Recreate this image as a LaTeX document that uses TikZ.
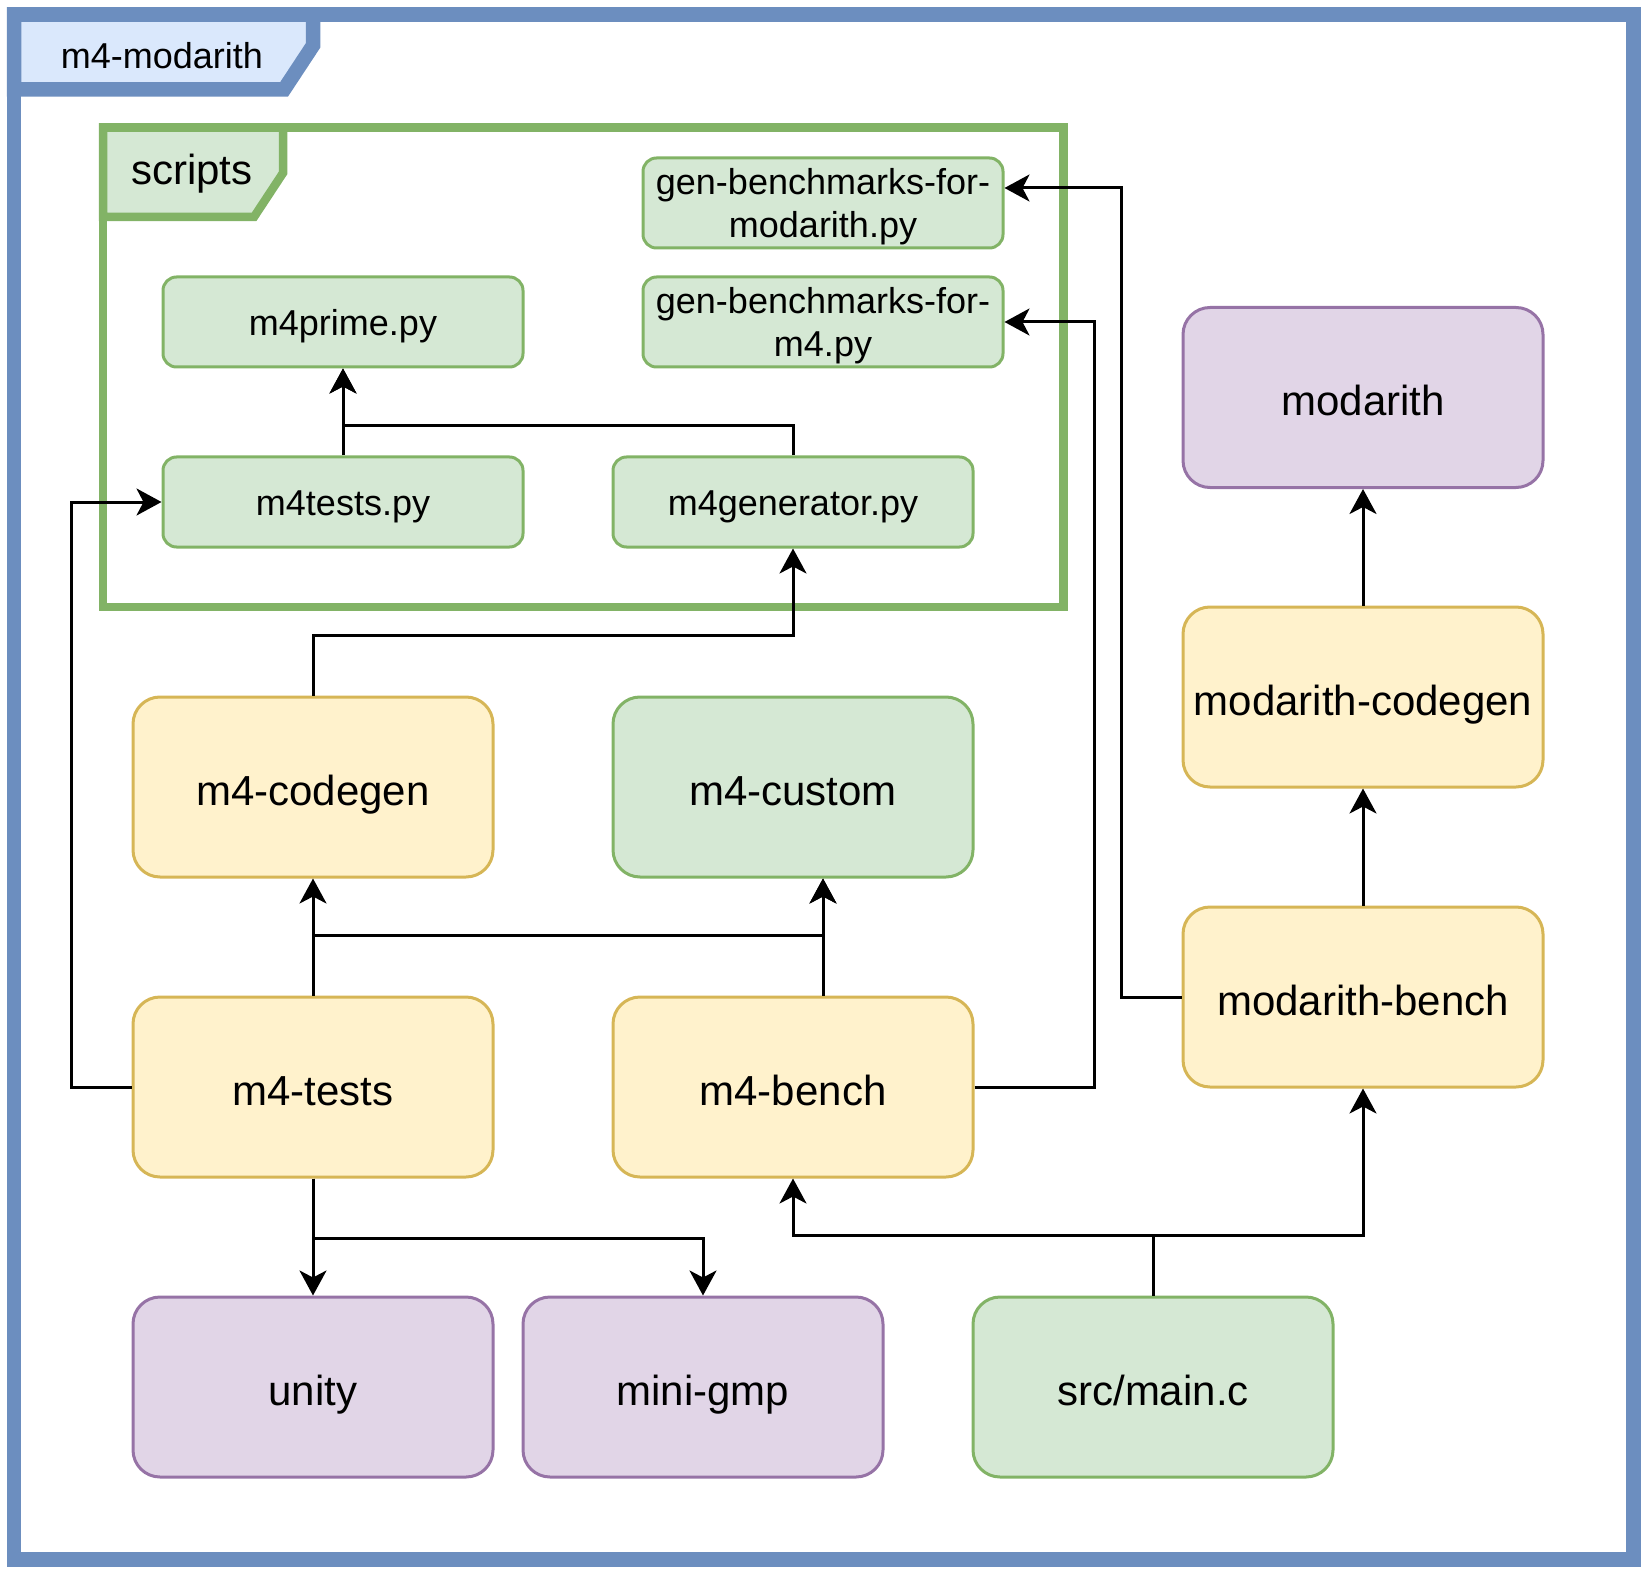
\documentclass[tikz,border=0pt]{standalone}
\usepackage{fontspec}
\setmainfont{Liberation Sans}
\usetikzlibrary{arrows.meta}
\definecolor{greenfill}{HTML}{D5E8D4}
\definecolor{greenline}{HTML}{82B366}
\definecolor{yellowfill}{HTML}{FFF2CC}
\definecolor{yellowline}{HTML}{D6B656}
\definecolor{purplefill}{HTML}{E1D5E7}
\definecolor{purpleline}{HTML}{9673A6}
\definecolor{bluefill}{HTML}{DAE8FC}
\definecolor{blueline}{HTML}{6C8EBF}
\tikzstyle{pybox}=[draw=greenline, fill=greenfill, line width=1.5pt, rounded corners=6.75pt, minimum width=180pt, minimum height=45pt, align=center, text depth=0pt, font=\fontsize{18}{21.5}\selectfont]
\tikzstyle{pkgbox}=[draw=yellowline, fill=yellowfill, line width=1.5pt, rounded corners=13.5pt, minimum width=180pt, minimum height=90pt, text height=18pt, text depth=0pt, font=\fontsize{21}{25}\selectfont]
\tikzstyle{libbox}=[pkgbox, draw=purpleline, fill=purplefill]
\tikzstyle{srcbox}=[pkgbox, draw=greenline, fill=greenfill]
\tikzstyle{dep}=[line width=1.5pt, -{Stealth[length=12.5pt, width=13.5pt, inset=3.5pt]}]
\newcommand{\pynode}[3]{\node[pybox, text height=13.7pt] (#1) at (#2) {#3};}
\newcommand{\pkgnode}[4]{\node[#4] (#1) at (#2) {#3};}

\begin{document}
\begin{tikzpicture}[x=0.5pt, y=-0.5pt]
\useasboundingbox (0,0) rectangle (1647,1572);

% outer frame
\filldraw[fill=bluefill, draw=blueline, line width=7.25pt] (14,14.5) -- (313,14.5) -- (313,45.5) -- (284,89.5) -- (14,89.5) -- cycle;
\draw[blueline, line width=7.25pt] (14,14.5) rectangle (1633.5,1559.5);
\node[anchor=base, font=\fontsize{18}{21.5}\selectfont] (framelabel) at (162,69) {m4-modarith};

% scripts frame
\filldraw[fill=greenfill, draw=greenline, line width=4.25pt] (103,127.5) -- (283,127.5) -- (283,173) -- (254,217) -- (103,217) -- cycle;
\draw[greenline, line width=4.25pt] (103,127.5) rectangle (1063.5,607);
\node[anchor=base, font=\fontsize{21}{25}\selectfont] (scriptslabel) at (192,185) {scripts};

\node[pybox] (genmod) at (823,203) {gen-benchmarks-for-\\modarith.py};
\node[pybox] (genmfour) at (823,322) {gen-benchmarks-for-\\m4.py};
\pynode{mprime}{343,322}{m4prime.py}
\pynode{mtestspy}{343,502}{m4tests.py}
\pynode{mgen}{793,502}{m4generator.py}

\pkgnode{codegen}{313,787}{m4-codegen}{pkgbox}
\pkgnode{custom}{793,787}{m4-custom}{srcbox}
\pkgnode{tests}{313,1087}{m4-tests}{pkgbox}
\pkgnode{bench}{793,1087}{m4-bench}{pkgbox}
\pkgnode{modarith}{1363,397.5}{modarith}{libbox}
\pkgnode{modcodegen}{1363,697}{modarith-codegen}{pkgbox}
\pkgnode{modbench}{1363,997}{modarith-bench}{pkgbox}
\pkgnode{unity}{313,1387}{unity}{libbox}
\pkgnode{minigmp}{703,1387}{mini-gmp}{libbox}
\pkgnode{mainc}{1153,1387}{src/main.c}{srcbox}

% dependencies
\draw[dep] (mtestspy) -- (mprime);
\draw[dep] (mgen.north) -- ++(0,-30) -| (mprime.south);
\draw[dep] (codegen.north) -- ++(0,-60) -| (mgen.south);
\draw[dep] (tests) -- (codegen);
\draw[dep] (tests.north) -- ++(0,-60) -| ([xshift=15pt]custom.south);
\draw[dep] ([xshift=15pt]bench.north) -- ([xshift=15pt]custom.south);
\draw[dep] (tests.west) -- ++(-60,0) |- (mtestspy.west);
\draw[dep] (tests) -- (unity);
\draw[dep] (tests.south) -- ++(0,60) -| (minigmp.north);
\draw[dep] (bench.east) -- ++(120,0) |- (genmfour.east);
\draw[dep] (modbench.west) -- ++(-60,0) |- ([yshift=7.5pt]genmod.east);
\draw[dep] (modbench) -- (modcodegen);
\draw[dep] (modcodegen) -- (modarith);
\draw[dep] (mainc.north) -- ++(0,-60) -| (bench.south);
\draw[dep] (mainc.north) -- ++(0,-60) -| (modbench.south);
\end{tikzpicture}
\end{document}
